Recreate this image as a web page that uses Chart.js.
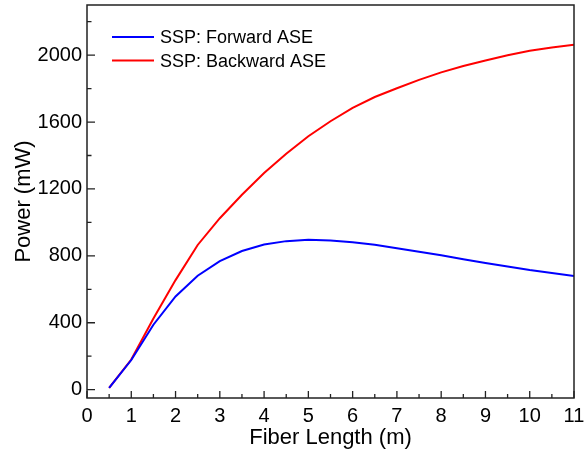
<!DOCTYPE html>
<html><head><meta charset="utf-8">
<script src="https://cdn.jsdelivr.net/npm/chart.js@4.4.0/dist/chart.umd.min.js"></script>
<style>html,body{margin:0;padding:0;background:#fff}</style>
</head><body>
<canvas id="c" width="586" height="454"></canvas>
<script>
// ---- data ----
const fiberLength = [0.5,1,1.5,2,2.5,3,3.5,4,4.5,5,5.5,6,6.5,7,7.5,8,8.5,9,9.5,10,10.5,11];
const forwardASE  = [10,177,388,557,681,768,829,868,888,896,892,882,866,846,825,803,780,757,736,715,697,680];
const backwardASE = [10,180,425,655,865,1025,1165,1295,1410,1515,1605,1685,1750,1802,1852,1897,1935,1968,2000,2027,2046,2062];
const seriesNames = ['SSP: Forward ASE','SSP: Backward ASE'];
const xTicks = [0,1,2,3,4,5,6,7,8,9,10,11];
const xMinorTicks = [0.5,1.5,2.5,3.5,4.5,5.5,6.5,7.5,8.5,9.5,10.5];
const yTicks = [0,400,800,1200,1600,2000];
const yMinorTicks = [200,600,1000,1400,1800,2200];

const FONT = "'Liberation Sans', Arial, sans-serif";

const framePlugin = {
  id: 'frame',
  afterDraw(chart) {
    const {ctx, chartArea: a, scales: {x, y}} = chart;
    ctx.save();
    ctx.strokeStyle = '#222';
    ctx.lineWidth = 1.5;
    ctx.strokeRect(a.left, a.top, a.right - a.left, a.bottom - a.top);
    ctx.lineWidth = 1.3;
    ctx.beginPath();
    const tick = (vals, len, axis) => vals.forEach(v => {
      if (axis === 'x') { const px = x.getPixelForValue(v); ctx.moveTo(px, a.bottom); ctx.lineTo(px, a.bottom - len); }
      else { const py = y.getPixelForValue(v); ctx.moveTo(a.left, py); ctx.lineTo(a.left + len, py); }
    });
    tick(xTicks, 7, 'x'); tick(xMinorTicks, 4, 'x');
    tick(yTicks, 8, 'y'); tick(yMinorTicks, 4.5, 'y');
    ctx.stroke();
    // legend
    ctx.font = '18px ' + FONT;
    ctx.textBaseline = 'middle';
    ctx.fillStyle = '#000';
    chart.data.datasets.forEach((ds, i) => {
      const yy = 37 + i * 23.6;
      ctx.strokeStyle = ds.borderColor; ctx.lineWidth = 2;
      ctx.beginPath(); ctx.moveTo(112, yy); ctx.lineTo(154, yy); ctx.stroke();
      ctx.fillText(ds.label, 160, yy + 1);
    });
    ctx.restore();
  }
};

const toPts = arr => fiberLength.map((x, i) => ({x, y: arr[i]}));

new Chart(document.getElementById('c'), {
  type: 'scatter',
  data: {
    datasets: [
      {label: seriesNames[0], data: toPts(forwardASE), borderColor: '#0000ff', showLine: true, pointRadius: 0, borderWidth: 2, tension: 0},
      {label: seriesNames[1], data: toPts(backwardASE), borderColor: '#ff0000', showLine: true, pointRadius: 0, borderWidth: 2, tension: 0}
    ]
  },
  options: {
    responsive: false,
    animation: false,
    devicePixelRatio: 1,
    layout: {padding: {left: 0, right: 12, top: 5, bottom: 0}},
    plugins: {legend: {display: false}, tooltip: {enabled: false}},
    scales: {
      x: {
        type: 'linear', min: 0, max: 11,
        afterBuildTicks: s => { s.ticks = xTicks.map(v => ({value: v})); },
        afterFit: s => { s.height = 56; s.paddingLeft = 0; s.paddingRight = 0; },
        grid: {display: false, drawTicks: false},
        border: {display: false},
        ticks: {font: {size: 20, family: FONT}, color: '#000', padding: 6, maxRotation: 0, autoSkip: false, callback: v => String(v)},
        title: {display: true, text: 'Fiber Length (m)', font: {size: 22, family: FONT}, color: '#000', padding: {top: 0, bottom: 3}}
      },
      y: {
        type: 'linear', min: -50, max: 2300,
        afterBuildTicks: s => { s.ticks = yTicks.map(v => ({value: v})); },
        afterFit: s => { s.width = 87; s.paddingTop = 0; s.paddingBottom = 0; },
        grid: {display: false, drawTicks: false},
        border: {display: false},
        ticks: {font: {size: 20, family: FONT}, color: '#000', padding: 5, autoSkip: false, callback: v => String(v)},
        title: {display: true, text: 'Power (mW)', font: {size: 22, family: FONT}, color: '#000', padding: {top: 11, bottom: 0}}
      }
    }
  },
  plugins: [framePlugin]
});
</script>
</body></html>
